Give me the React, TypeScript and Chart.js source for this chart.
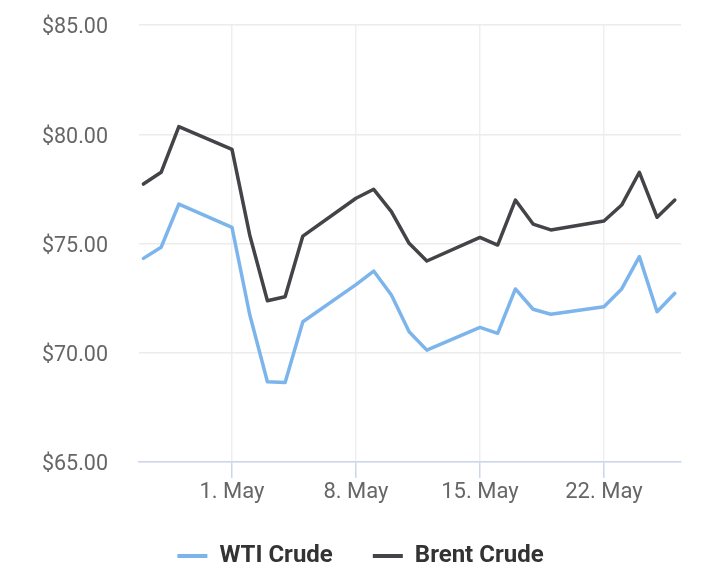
import React, { useEffect, useRef } from "react";
import { Chart, registerables } from "chart.js";

Chart.register(...registerables);

const dates = [
  "2023-04-26", "2023-04-27", "2023-04-28",
  "2023-05-01", "2023-05-02", "2023-05-03", "2023-05-04", "2023-05-05",
  "2023-05-08", "2023-05-09", "2023-05-10", "2023-05-11", "2023-05-12",
  "2023-05-15", "2023-05-16", "2023-05-17", "2023-05-18", "2023-05-19",
  "2023-05-22", "2023-05-23", "2023-05-24", "2023-05-25", "2023-05-26",
];

const wtiCrude = [
  74.32, 74.83, 76.8,
  75.74, 71.75, 68.67, 68.64, 71.42,
  73.12, 73.74, 72.64, 70.96, 70.12,
  71.16, 70.89, 72.92, 71.99, 71.76,
  72.11, 72.92, 74.4, 71.88, 72.72,
];

const brentCrude = [
  77.72, 78.26, 80.35,
  79.31, 75.39, 72.38, 72.56, 75.34,
  77.07, 77.48, 76.46, 75.01, 74.2,
  75.28, 74.93, 76.99, 75.89, 75.62,
  76.03, 76.76, 78.26, 76.2, 76.99,
];

const seriesNames = ["WTI Crude", "Brent Crude"];
const seriesColors = ["#7cb5ec", "#434348"];

const tickDates = ["2023-05-01", "2023-05-08", "2023-05-15", "2023-05-22"];
const tickLabels = ["1. May", "8. May", "15. May", "22. May"];

const yTicks = [65, 70, 75, 80, 85];

const axisStart = "2023-05-01";
const xMinDays = -5.25;
const xMaxDays = 25.35;

const DAY = 86400000;
const toDays = (d: string) => (Date.parse(d + "T00:00:00Z") - Date.parse(axisStart + "T00:00:00Z")) / DAY;

const legendShift = {
  id: "legendShift",
  afterLayout(chart: any) {
    const lg = chart.legend;
    if (lg) {
      lg.left += 20;
      lg.right += 20;
    }
  },
};

export default function App() {
  const ref = useRef<HTMLCanvasElement | null>(null);

  useEffect(() => {
    if (!ref.current) return;
    const tickValues = tickDates.map(toDays);
    const chart = new Chart(ref.current, {
      type: "line",
      data: {
        datasets: [wtiCrude, brentCrude].map((vals, i) => ({
          label: seriesNames[i],
          data: vals.map((v, j) => ({ x: toDays(dates[j]), y: v })),
          borderColor: seriesColors[i],
          backgroundColor: seriesColors[i],
          borderWidth: 3.5,
          pointRadius: 0,
          tension: 0,
          borderJoinStyle: "round" as const,
          borderCapStyle: "round" as const,
        })),
      },
      plugins: [legendShift],
      options: {
        responsive: false,
        animation: false,
        layout: { padding: { left: 0, right: 43, top: 25, bottom: 0 } },
        plugins: {
          tooltip: { enabled: false },
          legend: {
            position: "bottom",
            labels: {
              boxWidth: 30,
              boxHeight: 4,
              padding: 40,
              color: "#333333",
              font: { family: "Roboto", size: 24, weight: "bold" },
              generateLabels: (c: any) =>
                c.data.datasets.map((ds: any, i: number) => ({
                  text: ds.label,
                  fillStyle: ds.borderColor,
                  strokeStyle: ds.borderColor,
                  lineWidth: 0,
                  fontColor: "#333333",
                  hidden: false,
                  datasetIndex: i,
                })),
            },
          },
        },
        scales: {
          x: {
            type: "linear",
            min: xMinDays,
            max: xMaxDays,
            afterBuildTicks: (scale: any) => {
              scale.ticks = tickValues.map((v) => ({ value: v }));
            },
            afterFit: (scale: any) => {
              scale.height = 42;
              scale.paddingLeft = 0;
              scale.paddingRight = 0;
            },
            ticks: {
              color: "#666666",
              font: { family: "Roboto", size: 22 },
              padding: 1,
              maxRotation: 0,
              autoSkip: false,
              callback: (v: any) => {
                const idx = tickValues.indexOf(Number(v));
                return idx >= 0 ? tickLabels[idx] : "";
              },
            },
            grid: {
              color: "#efefef",
              tickColor: "#ccd6eb",
              tickLength: 16,
              lineWidth: 1.5,
              tickWidth: 1.5,
            },
            border: { display: true, color: "#ccd6eb", width: 1.5 },
          },
          y: {
            min: 65,
            max: 85,
            afterBuildTicks: (scale: any) => {
              scale.ticks = yTicks.map((v) => ({ value: v }));
            },
            afterFit: (scale: any) => {
              scale.width = 139;
              scale.paddingTop = 0;
              scale.paddingBottom = 0;
            },
            ticks: {
              color: "#666666",
              font: { family: "Roboto", size: 21.5 },
              padding: 31,
              labelOffset: 3,
              callback: (v: any) => "$" + Number(v).toFixed(2),
            },
            grid: { color: "#ececec", drawTicks: false, lineWidth: 1.5 },
            border: { display: false },
          },
        },
      },
    } as any);
    return () => chart.destroy();
  }, []);

  return (
    <div style={{ position: "absolute", left: 0, top: 0, width: 724, height: 578, background: "#ffffff" }}>
      <canvas ref={ref} width={724} height={578} />
    </div>
  );
}
